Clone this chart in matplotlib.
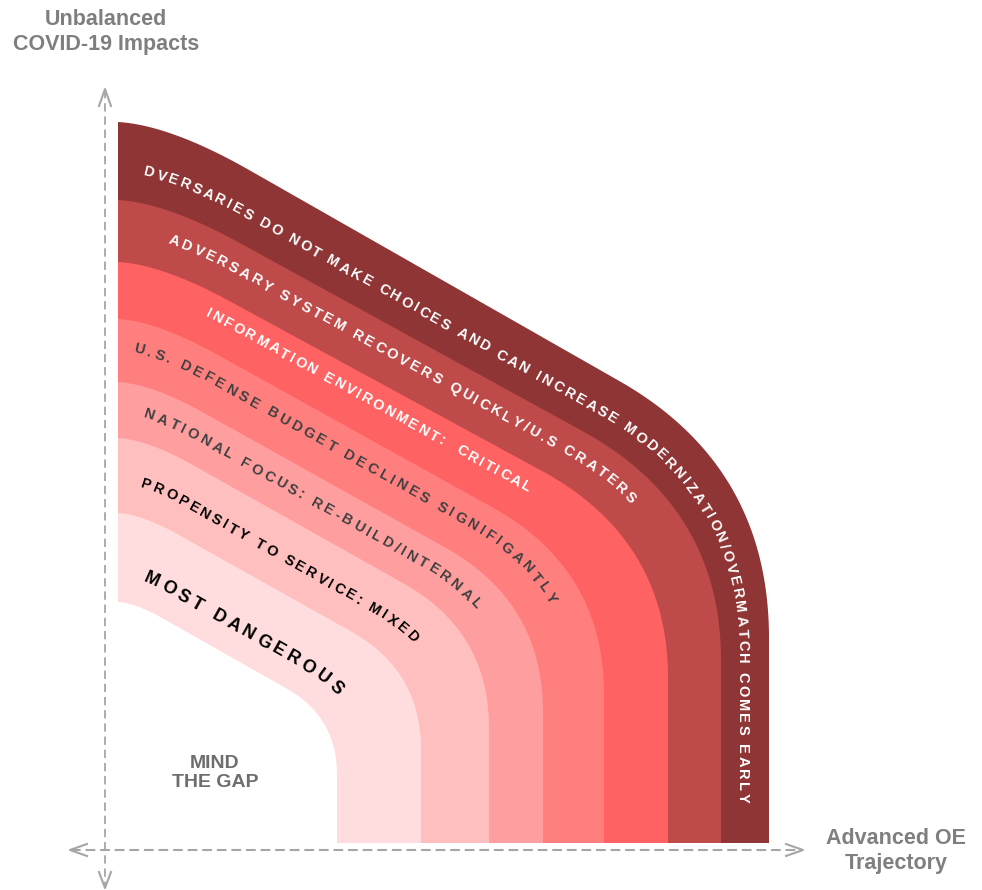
import numpy as np
import matplotlib
matplotlib.use("Agg")
import matplotlib.pyplot as plt
from matplotlib.font_manager import FontProperties
from matplotlib.textpath import TextToPath

plt.rcParams['font.family'] = ['Liberation Sans', 'DejaVu Sans']
plt.rcParams['lines.scale_dashes'] = False

# bands, outer -> inner
band_labels = ["DVERSARIES DO NOT MAKE CHOICES AND CAN INCREASE MODERNIZATION/OVERMATCH COMES EARLY",
               "ADVERSARY SYSTEM RECOVERS QUICKLY/U.S CRATERS",
               "INFORMATION ENVIRONMENT:  CRITICAL",
               "U.S. DEFENSE BUDGET DECLINES SIGNIFIGANTLY",
               "NATIONAL FOCUS: RE-BUILD/INTERNAL",
               "PROPENSITY TO SERVICE: MIXED",
               "MOST DANGEROUS"]
band_colors = ['#8F3535', '#BF4A4A', '#FF6262', '#FF7F7F', '#FF9E9E', '#FFBFBF', '#FFDDDE']
text_colors = ['white', 'white', 'white', '#404040', '#404040', 'black', 'black']

# band edges, outer -> inner (sketch pixels); each edge is a scaled copy of the outer one
edge_top = [122, 200, 262, 319, 382, 438, 513, 602]    # where the edge meets the left side
edge_right = [769, 721, 668, 604, 543, 489, 421, 337]  # x of its vertical part

y_title = "Unbalanced\nCOVID-19 Impacts"
x_title = "Advanced OE\nTrajectory"
gap_text = "MIND\nTHE GAP"

X0, Y0 = 118, 843      # left side and floor of the bands
SLOPE = 0.57
DPI = 100
N = 300


def outer_edge(n=N):
    line = lambda x: 199 + SLOPE * (x - 300)
    u = np.array([1, SLOPE]) / np.hypot(1, SLOPE)
    t = np.linspace(0, 1, n)[:, None]
    # soft shoulder on the left
    s0 = np.array([X0, edge_top[0]])
    xa = (edge_top[0] - 0.06 * X0 - 199 + SLOPE * 300) / (SLOPE - 0.06)
    p1 = np.array([xa, line(xa)])
    a = np.array([250, line(250)])
    c1 = (1-t)**2*s0 + 2*(1-t)*t*p1 + t**2*a
    # big round corner into the vertical side
    v = np.array([edge_right[0], line(edge_right[0])])
    b = v - 172 * u
    c = np.array([edge_right[0], v[1] + 172])
    seg = np.linspace(a, b, n)
    c2 = (1-t)**2*b + 2*(1-t)*t*v + t**2*c
    tail = np.linspace(c, [edge_right[0], Y0], n)
    pts = np.vstack([c1, seg, c2, tail])
    d = np.hypot(*np.diff(pts, axis=0).T)
    return pts[np.r_[True, d > 1e-6]]


BASE = outer_edge()
SX = [(r - X0) / (edge_right[0] - X0) for r in edge_right]
SY = [(Y0 - t) / (Y0 - edge_top[0]) for t in edge_top]


def edge_at(i, w=0.0):
    sx = (1-w)*SX[i] + w*SX[min(i+1, len(SX)-1)]
    sy = (1-w)*SY[i] + w*SY[min(i+1, len(SY)-1)]
    return np.c_[X0 + (BASE[:, 0] - X0)*sx, Y0 - (Y0 - BASE[:, 1])*sy]


ttp = TextToPath()
def advance(ch, prop):
    w1 = ttp.get_text_width_height_descent("H" + ch + "H", prop, ismath=False)[0]
    w0 = ttp.get_text_width_height_descent("HH", prop, ismath=False)[0]
    return (w1 - w0) * DPI / 72


def text_on_path(ax, text, pts, x_start, size, track, color):
    prop = FontProperties(family='Liberation Sans', weight='bold', size=size)
    s = np.r_[0, np.cumsum(np.hypot(*np.diff(pts, axis=0).T))]
    pos = np.interp(x_start, pts[:N-1, 0], s[:N-1])
    for ch in text:
        w = advance(ch, prop)
        sc = pos + w / 2
        x = np.interp(sc, s, pts[:, 0])
        y = np.interp(sc, s, pts[:, 1])
        dx = np.interp(sc + 2, s, pts[:, 0]) - np.interp(sc - 2, s, pts[:, 0])
        dy = np.interp(sc + 2, s, pts[:, 1]) - np.interp(sc - 2, s, pts[:, 1])
        ang = np.degrees(np.arctan2(-dy, dx))
        if ch != " ":
            ax.text(x, y, ch, rotation=ang, rotation_mode='anchor', ha='center',
                    va='baseline', fontproperties=prop, color=color)
        pos += w + track


fig = plt.figure(figsize=(9.82, 8.9), dpi=DPI)
ax = fig.add_axes([0, 0, 1, 1])
ax.set_xlim(0, 982)
ax.set_ylim(890, 0)
ax.axis('off')

# bands, drawn from the outside in
fills = band_colors + ['white']
for i in range(len(edge_top)):
    pts = edge_at(i)
    ax.fill(np.r_[pts[:, 0], X0], np.r_[pts[:, 1], Y0], color=fills[i], lw=0, zorder=1)

# labels along the bands
starts = [143, 168, 205, 133, 143, 140, 143]
sizes = [10.5, 10.5, 10.5, 10.5, 10.5, 10.5, 13]
tracks = [2.4, 2.7, 2.2, 3.2, 3.1, 2.75, 3.9]
weights = [0.64, 0.52, 0.46, 0.5, 0.55, 0.6, 0.7]
for i, lab in enumerate(band_labels):
    text_on_path(ax, lab, edge_at(i, weights[i]), starts[i], sizes[i], tracks[i], text_colors[i])

# dashed axes with open arrow heads
grey = '#A6A6A6'
ax.plot([105, 105], [90, 887], color=grey, lw=1.3, dashes=(6, 3.5), zorder=0)
ax.plot([71, 802], [850, 850], color=grey, lw=1.5, dashes=(7, 3.5), zorder=0)
ax.plot([99, 105, 111], [106, 89, 106], color=grey, lw=1.5)
ax.plot([99, 105, 111], [872, 888, 872], color=grey, lw=1.5)
ax.plot([87, 70, 87], [844, 850, 856], color=grey, lw=1.5)
ax.plot([786, 803, 786], [844, 850, 856], color=grey, lw=1.5)

ax.text(106, 32, y_title, ha='center', va='center', fontsize=15.5, fontweight='bold',
        color='#7F7F7F', linespacing=1.25)
ax.text(896, 851, x_title, ha='center', va='center', fontsize=15.5, fontweight='bold',
        color='#7F7F7F', linespacing=1.2)
ax.text(215, 773, gap_text, ha='center', va='center', fontsize=14, fontweight='bold',
        color='#6E6E6E', linespacing=1.1)

fig.savefig('out.png', dpi=DPI)
